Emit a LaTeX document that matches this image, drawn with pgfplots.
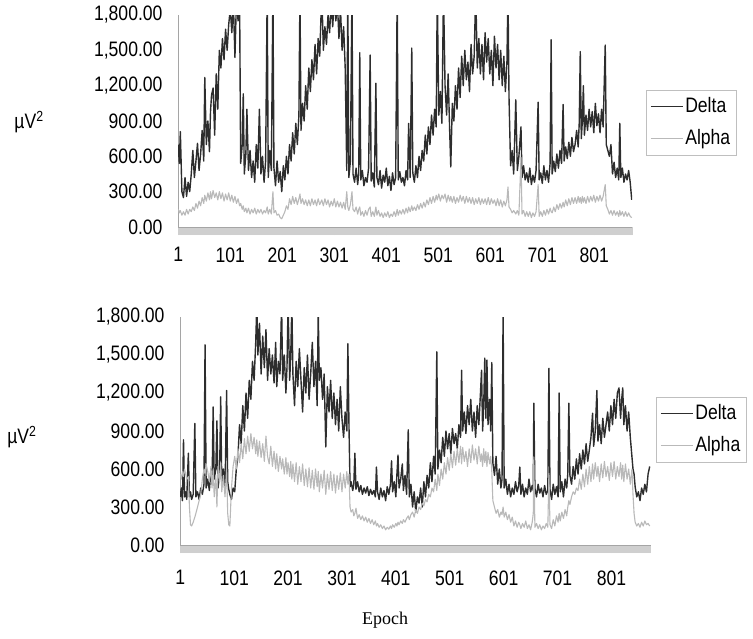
\documentclass[border=0pt]{standalone}
\usepackage{fontspec}
\setmainfont{Liberation Sans}[FakeStretch=0.84]
\newfontfamily\timesf{Liberation Serif}
\usepackage{pgfplots}
\usepackage{pgfplotstable}
\pgfplotsset{compat=1.18}
\definecolor{deltac}{RGB}{45,45,45}
\definecolor{alphac}{RGB}{185,185,185}
\definecolor{axisc}{RGB}{165,165,165}

% epoch, delta, alpha (upper recording)
\pgfplotstableread[row sep=\\]{
ep d a\\
1 700 150\\ 3 540 120\\ 5 810 140\\ 8 300 100\\ 11 250 130\\ 14 420 100\\ 17 260 150\\ 20 380 110\\
23 300 150\\ 26 450 130\\ 29 650 170\\ 32 420 140\\ 35 560 200\\ 38 710 160\\ 41 480 220\\ 44 620 180\\
47 820 250\\ 50 560 200\\ 52 1270 270\\ 55 700 220\\ 58 900 290\\ 61 640 230\\ 63 980 300\\ 65 1120 240\\
68 1180 310\\ 71 780 250\\ 74 1300 290\\ 77 1000 230\\ 80 1500 300\\ 83 1350 240\\ 86 1600 290\\ 89 1420 220\\
92 1680 280\\ 95 1500 230\\ 98 1720 290\\ 101 1850 220\\ 104 1650 270\\ 107 1900 210\\ 110 1440 260\\ 113 1950 200\\
116 1750 240\\ 119 1900 180\\ 121 540 200\\ 124 700 150\\ 126 1130 180\\ 128 450 130\\ 131 620 160\\ 133 1000 120\\
136 480 160\\ 139 650 110\\ 142 420 150\\ 145 560 120\\ 148 380 160\\ 151 700 110\\ 154 500 150\\ 157 1000 120\\
160 450 150\\ 163 600 110\\ 166 380 140\\ 169 560 120\\ 172 2000 170\\ 174 420 110\\ 177 650 150\\ 180 480 110\\
183 2000 300\\ 185 500 120\\ 188 350 140\\ 191 560 100\\ 194 380 110\\ 197 470 80\\ 200 300 70\\ 203 520 100\\
206 400 130\\ 209 600 180\\ 212 450 150\\ 215 700 240\\ 218 560 190\\ 221 800 260\\ 224 620 200\\ 227 880 250\\
230 700 190\\ 233 950 240\\ 235 2000 280\\ 237 820 200\\ 240 1050 240\\ 243 900 190\\ 246 1200 230\\ 249 1000 180\\
252 1350 230\\ 255 1150 180\\ 258 1420 240\\ 261 1250 190\\ 264 1550 230\\ 267 1300 180\\ 270 1600 240\\ 273 1450 190\\
277 2000 230\\ 280 1500 180\\ 283 1700 240\\ 286 1550 190\\ 289 1800 230\\ 292 1650 170\\ 295 1900 220\\ 298 1700 180\\
301 1950 240\\ 304 1750 170\\ 307 1900 220\\ 310 1600 170\\ 313 1850 210\\ 316 1500 160\\ 319 1700 210\\ 322 1350 150\\
325 480 300\\ 327 2000 170\\ 329 420 140\\ 332 560 190\\ 335 2000 300\\ 337 450 150\\ 340 380 130\\ 343 500 170\\
346 360 110\\ 348 450 150\\ 350 1480 170\\ 352 400 100\\ 355 480 130\\ 358 350 90\\ 361 420 140\\ 364 380 100\\
367 500 150\\ 370 1460 170\\ 372 390 90\\ 375 460 130\\ 378 340 90\\ 381 1220 170\\ 383 420 100\\ 386 360 140\\
389 480 90\\ 392 330 120\\ 395 440 80\\ 398 380 120\\ 401 500 90\\ 404 350 130\\ 407 430 80\\ 410 310 110\\
413 460 90\\ 416 360 130\\ 419 420 90\\ 422 2000 150\\ 424 400 100\\ 427 470 140\\ 430 380 110\\ 433 420 150\\
436 350 110\\ 439 480 160\\ 442 400 120\\ 444 880 170\\ 447 420 130\\ 450 1520 180\\ 452 460 140\\ 455 380 170\\
458 520 140\\ 461 420 190\\ 464 600 150\\ 467 480 200\\ 470 650 160\\ 473 560 210\\ 476 780 170\\ 479 620 230\\
482 850 190\\ 485 700 250\\ 488 950 200\\ 491 780 260\\ 494 1000 210\\ 497 850 270\\ 499 2000 230\\ 502 950 280\\
505 1150 220\\ 508 880 270\\ 511 2000 240\\ 514 1200 280\\ 517 950 210\\ 520 1300 270\\ 523 800 220\\ 525 510 260\\
528 1050 210\\ 531 900 260\\ 534 1200 200\\ 537 1000 250\\ 540 1350 210\\ 543 1100 270\\ 546 1450 220\\ 549 1200 260\\
552 1500 200\\ 555 1250 260\\ 558 1400 210\\ 561 1150 250\\ 564 1550 200\\ 567 1300 250\\ 570 1450 190\\ 573 2000 240\\
576 1350 200\\ 579 1600 250\\ 582 1300 190\\ 585 1550 240\\ 588 1250 200\\ 591 1650 240\\ 594 1400 190\\ 597 1600 250\\
600 1300 190\\ 603 1500 240\\ 606 1200 200\\ 609 1620 230\\ 612 1350 180\\ 615 1550 240\\ 618 1250 180\\ 621 1500 230\\
624 1200 170\\ 627 1450 220\\ 630 1150 180\\ 633 1400 230\\ 635 2000 340\\ 637 1100 170\\ 640 520 150\\ 643 650 120\\
646 450 140\\ 650 1080 110\\ 653 480 140\\ 656 600 100\\ 660 850 590\\ 662 420 110\\ 665 520 140\\ 668 400 90\\
671 460 130\\ 674 380 90\\ 677 500 130\\ 680 360 80\\ 683 440 120\\ 686 380 90\\ 689 480 130\\ 693 1060 360\\
695 400 90\\ 698 460 130\\ 701 370 90\\ 704 520 140\\ 707 400 100\\ 710 480 150\\ 713 380 110\\ 716 540 160\\
718 1590 130\\ 720 450 120\\ 723 560 170\\ 726 470 130\\ 729 620 190\\ 732 500 150\\ 735 650 200\\ 738 540 160\\
741 1040 210\\ 743 560 170\\ 746 680 230\\ 749 580 180\\ 752 720 240\\ 755 600 190\\ 758 760 250\\ 761 640 200\\
764 700 250\\ 767 820 200\\ 770 680 260\\ 772 880 210\\ 774 1490 250\\ 776 750 200\\ 778 900 260\\ 780 1200 210\\
782 780 250\\ 785 950 200\\ 788 820 260\\ 791 1000 210\\ 794 850 260\\ 797 980 220\\ 800 800 270\\ 803 1050 210\\
806 860 260\\ 809 960 220\\ 812 800 270\\ 815 1000 220\\ 818 850 260\\ 822 1545 360\\ 824 700 180\\ 827 650 150\\
830 600 110\\ 833 700 140\\ 836 450 100\\ 839 550 140\\ 842 420 100\\ 845 500 130\\ 848 400 90\\ 850 880 140\\
852 420 100\\ 855 500 130\\ 858 380 90\\ 861 450 130\\ 864 400 90\\ 867 480 120\\ 870 380 90\\ 873 230 80\\
}\toptab

% epoch, delta, alpha (lower recording)
\pgfplotstableread[row sep=\\]{
ep d a\\
1 380 560\\ 3 450 520\\ 5 350 580\\ 7 830 540\\ 9 380 600\\ 11 420 560\\ 13 360 520\\ 16 725 540\\
18 380 300\\ 20 420 160\\ 22 360 150\\ 25 400 180\\ 28 960 220\\ 30 380 250\\ 33 420 300\\ 36 360 350\\
39 450 400\\ 42 400 520\\ 45 480 600\\ 47 1580 560\\ 49 450 640\\ 52 520 580\\ 55 430 500\\ 58 600 620\\
60 480 450\\ 62 1090 600\\ 64 520 380\\ 67 600 550\\ 69 980 300\\ 71 450 620\\ 74 560 500\\ 76 1170 650\\
78 480 420\\ 81 600 550\\ 84 420 380\\ 87 1220 600\\ 89 500 250\\ 91 440 160\\ 93 400 150\\ 96 360 450\\
99 450 620\\ 102 420 700\\ 105 600 600\\ 108 700 760\\ 111 950 650\\ 114 800 800\\ 117 1100 680\\ 120 900 840\\
123 1200 720\\ 126 1000 860\\ 129 1300 740\\ 132 1150 880\\ 135 1450 760\\ 138 1300 850\\ 141 1600 720\\ 143 1900 830\\
145 1500 700\\ 148 1750 820\\ 151 1350 690\\ 154 1650 800\\ 157 1400 660\\ 160 1700 860\\ 163 1300 700\\ 166 1550 640\\
169 1350 780\\ 172 1500 620\\ 175 1280 740\\ 178 1600 600\\ 180 1250 720\\ 183 1450 580\\ 186 1350 700\\ 189 1900 600\\
191 1300 680\\ 194 1500 560\\ 197 1200 690\\ 199 1400 560\\ 201 1900 650\\ 204 1300 540\\ 206 1500 660\\ 208 1900 520\\
210 1350 640\\ 213 1100 500\\ 216 1450 650\\ 219 1250 480\\ 222 1550 620\\ 225 1300 500\\ 228 1050 640\\ 231 1400 470\\
234 1200 600\\ 237 1500 460\\ 240 1150 610\\ 243 1350 450\\ 246 1600 590\\ 249 1250 440\\ 252 1450 600\\ 255 1100 460\\
257 1850 580\\ 259 1300 420\\ 262 1400 560\\ 265 1150 450\\ 268 1350 590\\ 271 775 400\\ 274 1250 560\\ 277 1050 440\\
280 1300 580\\ 283 1000 430\\ 286 1200 560\\ 289 950 410\\ 292 1150 550\\ 295 900 440\\ 298 1250 570\\ 301 1000 420\\
304 850 560\\ 307 1050 450\\ 310 900 580\\ 312 1590 480\\ 314 950 560\\ 316 460 300\\ 318 500 260\\ 321 430 280\\
323 480 230\\ 325 725 250\\ 327 440 290\\ 330 500 210\\ 333 420 240\\ 336 470 200\\ 339 400 230\\ 342 450 190\\
345 410 220\\ 348 460 180\\ 351 390 210\\ 354 440 170\\ 357 400 200\\ 360 430 160\\ 363 380 190\\ 365 615 150\\
367 420 170\\ 370 360 140\\ 373 450 160\\ 376 380 130\\ 379 430 150\\ 382 350 120\\ 385 460 140\\ 388 400 125\\
391 480 150\\ 393 665 130\\ 395 420 160\\ 398 500 140\\ 401 380 170\\ 403 560 150\\ 405 710 180\\ 407 450 160\\
410 520 190\\ 413 640 170\\ 415 430 200\\ 418 550 180\\ 421 400 210\\ 424 910 230\\ 426 380 200\\ 429 480 240\\
432 300 260\\ 435 420 220\\ 438 260 280\\ 441 380 250\\ 444 330 300\\ 447 450 280\\ 450 300 330\\ 453 500 310\\
456 380 360\\ 459 550 340\\ 462 450 400\\ 465 650 380\\ 468 500 450\\ 471 700 420\\ 474 560 520\\ 477 1525 430\\
479 600 560\\ 482 750 470\\ 485 650 600\\ 488 850 520\\ 491 700 650\\ 494 900 560\\ 497 760 690\\ 500 880 590\\
503 720 720\\ 506 920 610\\ 509 800 740\\ 512 880 630\\ 515 760 760\\ 518 950 650\\ 521 850 780\\ 523 1380 640\\
525 900 770\\ 528 1050 660\\ 531 880 740\\ 534 1100 620\\ 537 950 760\\ 540 1150 650\\ 543 900 790\\ 546 1050 670\\
549 850 760\\ 552 1100 640\\ 555 950 780\\ 558 1200 660\\ 560 1380 720\\ 562 900 620\\ 564 1100 760\\ 566 1475 650\\
568 1000 740\\ 570 1460 620\\ 572 950 730\\ 575 1150 640\\ 577 900 700\\ 579 1440 580\\ 581 650 350\\ 584 550 300\\
587 700 250\\ 590 480 280\\ 593 600 220\\ 596 450 260\\ 598 520 240\\ 600 1850 300\\ 602 450 220\\ 605 520 260\\
608 400 200\\ 611 480 240\\ 614 380 180\\ 617 450 220\\ 620 400 150\\ 623 500 190\\ 626 420 140\\ 629 470 180\\
631 615 160\\ 633 400 130\\ 636 480 170\\ 639 380 140\\ 642 450 190\\ 645 400 130\\ 648 520 160\\ 651 420 120\\
654 470 180\\ 656 430 250\\ 657 1120 695\\ 659 450 140\\ 662 380 170\\ 665 480 130\\ 668 410 160\\ 671 450 120\\
674 380 150\\ 677 470 130\\ 680 400 170\\ 683 430 140\\ 685 1395 565\\ 687 440 160\\ 690 360 130\\ 693 480 200\\
696 400 150\\ 699 460 230\\ 702 380 180\\ 704 1200 250\\ 706 420 190\\ 709 500 260\\ 712 380 210\\ 715 520 280\\
718 450 230\\ 720 560 300\\ 722 1120 350\\ 724 550 320\\ 727 480 380\\ 730 620 420\\ 733 520 400\\ 736 680 450\\
739 560 430\\ 742 720 520\\ 745 600 440\\ 748 750 560\\ 751 640 460\\ 754 800 600\\ 757 660 480\\ 760 750 620\\
763 850 500\\ 766 1040 640\\ 768 780 520\\ 771 900 650\\ 774 1220 540\\ 776 820 620\\ 779 950 500\\ 782 800 640\\
785 1000 530\\ 788 850 660\\ 791 950 540\\ 794 1050 620\\ 797 900 510\\ 800 1100 650\\ 803 950 540\\ 806 1150 660\\
809 1000 520\\ 812 1200 620\\ 815 1240 540\\ 818 1000 650\\ 820 1150 520\\ 822 1240 630\\ 824 950 500\\ 827 1100 640\\
830 900 520\\ 833 1050 600\\ 836 850 480\\ 839 700 600\\ 841 600 400\\ 843 560 250\\ 845 460 180\\ 848 380 150\\
851 420 170\\ 854 350 140\\ 857 450 180\\ 860 400 150\\ 863 480 190\\ 866 420 160\\ 869 560 170\\ 872 620 150\\
}\bottab

\pgfplotsset{
  eeg/.style={
    scale only axis,
    xmin=0.5, xmax=873.5, ymin=0, ymax=1800,
    axis x line*=bottom, axis y line*=left,
    axis line style={axisc, line width=0.8bp},
    xtick={1,101,...,801},
    minor xtick={0.5,1.5,...,873.5},
    ytick={0,300,...,1800},
    tick align=outside,
    major tick length=8bp, minor tick length=8bp,
    x tick style={draw=gray!38, line width=0.45bp},
    minor x tick style={draw=gray!38, line width=0.45bp},
    y tick style={draw=none},
    tick label style={font=\fontsize{21}{21}\selectfont},
    yticklabel style={xshift=-4bp},
    /pgf/number format/assume math mode=true,
    yticklabel style={/pgf/number format/.cd, fixed, fixed zerofill, precision=2, 1000 sep={,}},
    ylabel={µV\textsuperscript{2}},
    ylabel style={rotate=-90, anchor=center, font=\fontsize{21}{21}\selectfont},
    every axis plot/.append style={line join=round},
    legend cell align=left,
    legend image code/.code={\draw[#1, line width=0.9bp] (0bp,0bp) -- (32bp,0bp);},
    legend style={anchor=north west, draw=gray!50, line width=0.6bp,
      font=\fontsize{21}{21}\selectfont, inner xsep=4bp, inner ysep=5bp,
      row sep=9bp, nodes={inner sep=2bp, text height=15bp, text depth=4bp}},
  }
}

\begin{document}
\begin{tikzpicture}
\useasboundingbox (0,0) rectangle (753bp,-639bp);

\begin{axis}[eeg, at={(178bp,-227bp)}, anchor=south west,
    width=454bp, height=212bp,
    xticklabel style={yshift=-9bp},
    ylabel style={at={(axis description cs:-0.328,0.495)}},
    legend style={at={(1.031,0.646)}}]
\addplot[deltac, line width=1.4bp] table[x=ep, y=d] {\toptab};
\addplot[alphac, line width=1.1bp] table[x=ep, y=a] {\toptab};
\legend{Delta, Alpha}
\end{axis}

\begin{axis}[eeg, at={(180bp,-545bp)}, anchor=south west,
    width=470.5bp, height=228bp,
    xticklabel style={yshift=-14bp},
    ylabel style={at={(axis description cs:-0.336,0.474)}},
    xlabel={Epoch},
    xlabel style={at={(axis description cs:0.436,-0.329)}, anchor=center, font=\timesf\fontsize{18}{18}\selectfont},
    legend style={at={(1.012,0.649)}}]
\addplot[deltac, line width=1.4bp] table[x=ep, y=d] {\bottab};
\addplot[alphac, line width=1.1bp] table[x=ep, y=a] {\bottab};
\legend{Delta, Alpha}
\end{axis}
\end{tikzpicture}
\end{document}
